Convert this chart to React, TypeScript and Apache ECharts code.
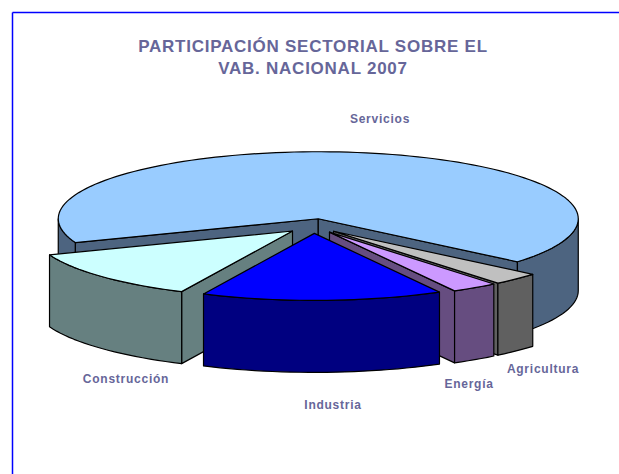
import React, { useEffect, useRef } from "react";
import * as echarts from "echarts";

const TITLE = "PARTICIPACIÓN SECTORIAL SOBRE EL\nVAB. NACIONAL 2007";
// Clockwise on screen, starting from the Agricultura slice.
const categories = ["Agricultura", "Energía", "Industria", "Construcción", "Servicios"];
const shares = [3.0, 2.9, 15.0, 12.2, 66.9];
const topColors = ["#C0C0C0", "#CC99FF", "#0000FF", "#CCFFFF", "#99CCFF"];
const sideColors = ["#606060", "#664D80", "#000080", "#668080", "#4D6480"];
const labelSpots: [number, number][] = [[543, 369], [469, 384], [333, 405], [126, 379], [380, 119]];

const TEXT = "#666699";
const FONT = "Liberation Sans, Arial, sans-serif";
const START_DEG = 40;
const CX = 313.5;
const CY = 226;
const RX = 260;
const RY = 67;
const DEPTH = 72;
const EXPLODE = 0.11;

const rad = (d: number) => (d * Math.PI) / 180;
const total = shares.reduce((a, b) => a + b, 0);

function sliceAngles(i: number) {
  let a = START_DEG;
  for (let k = 0; k < i; k++) a += (shares[k] / total) * 360;
  return [a, a + (shares[i] / total) * 360];
}

function arc(cx: number, cy: number, from: number, to: number) {
  const pts: number[][] = [];
  const n = Math.max(2, Math.ceil((to - from) / 2));
  for (let i = 0; i <= n; i++) {
    const t = rad(from + ((to - from) * i) / n);
    pts.push([cx + RX * Math.cos(t), cy + RY * Math.sin(t)]);
  }
  return pts;
}

function renderItem(params: any) {
  const i = params.dataIndex;
  const [a0, a1] = sliceAngles(i);
  const mid = rad((a0 + a1) / 2);
  const ax = CX + EXPLODE * RX * Math.cos(mid);
  const ay = CY + EXPLODE * RY * Math.sin(mid);
  const rank = [...categories.keys()]
    .sort((p, q) => {
      const mp = sliceAngles(p);
      const mq = sliceAngles(q);
      return Math.sin(rad((mp[0] + mp[1]) / 2)) - Math.sin(rad((mq[0] + mq[1]) / 2));
    })
    .indexOf(i);
  const line = { stroke: "#000", lineWidth: 1.2, lineJoin: "round" };
  const children: any[] = [];
  let z = rank * 10;
  const poly = (points: number[][], fill: string) =>
    children.push({ type: "polygon", z2: z++, shape: { points }, style: { fill, ...line } });
  const wall = (deg: number) => {
    const t = rad(deg);
    const x = ax + RX * Math.cos(t);
    const y = ay + RY * Math.sin(t);
    poly([[ax, ay], [x, y], [x, y + DEPTH], [ax, ay + DEPTH]], sideColors[i]);
  };
  const rimWall = (from: number, to: number) => {
    const top = arc(ax, ay, from, to);
    const bottom = top.map(([x, y]) => [x, y + DEPTH]).reverse();
    poly([...top, ...bottom], sideColors[i]);
  };
  if (Math.cos(rad(a0)) < 0) wall(a0);
  if (Math.cos(rad(a1)) > 0) wall(a1);
  // Only the part of the rim that faces the viewer is drawn.
  for (const [lo, hi] of [[0, 180], [360, 540]]) {
    const from = Math.max(a0, lo);
    const to = Math.min(a1, hi);
    if (to > from) rimWall(from, to);
  }
  poly([[ax, ay], ...arc(ax, ay, a0, a1)], topColors[i]);
  children.push({
    type: "text",
    z2: 100,
    x: labelSpots[i][0],
    y: labelSpots[i][1],
    style: {
      text: categories[i],
      fill: TEXT,
      font: `bold 12px ${FONT}`,
      align: "center",
      verticalAlign: "middle",
    },
  });
  return { type: "group", children };
}

export default function App() {
  const ref = useRef<HTMLDivElement>(null);
  useEffect(() => {
    document.body.style.margin = "0";
    const chart = echarts.init(ref.current!, undefined, { renderer: "svg" });
    chart.setOption({
      animation: false,
      backgroundColor: "#fff",
      title: {
        text: TITLE,
        left: 308,
        top: 30,
        textAlign: "center",
        textStyle: { color: TEXT, fontFamily: FONT, fontWeight: "bold", fontSize: 17, lineHeight: 22 },
      },
      graphic: [
        { type: "line", shape: { x1: 12.5, y1: 12.5, x2: 619, y2: 12.5 }, style: { stroke: "#0000FF", lineWidth: 1.5 } },
        { type: "line", shape: { x1: 12.5, y1: 12.5, x2: 12.5, y2: 474 }, style: { stroke: "#0000FF", lineWidth: 1.5 } },
      ],
      series: [
        {
          type: "custom",
          coordinateSystem: "none",
          clip: false,
          silent: true,
          renderItem,
          data: shares.map((v, i) => ({ name: categories[i], value: v })),
        },
      ],
    });
    return () => chart.dispose();
  }, []);
  return <div ref={ref} style={{ width: 619, height: 474, letterSpacing: "0.75px" }} />;
}
